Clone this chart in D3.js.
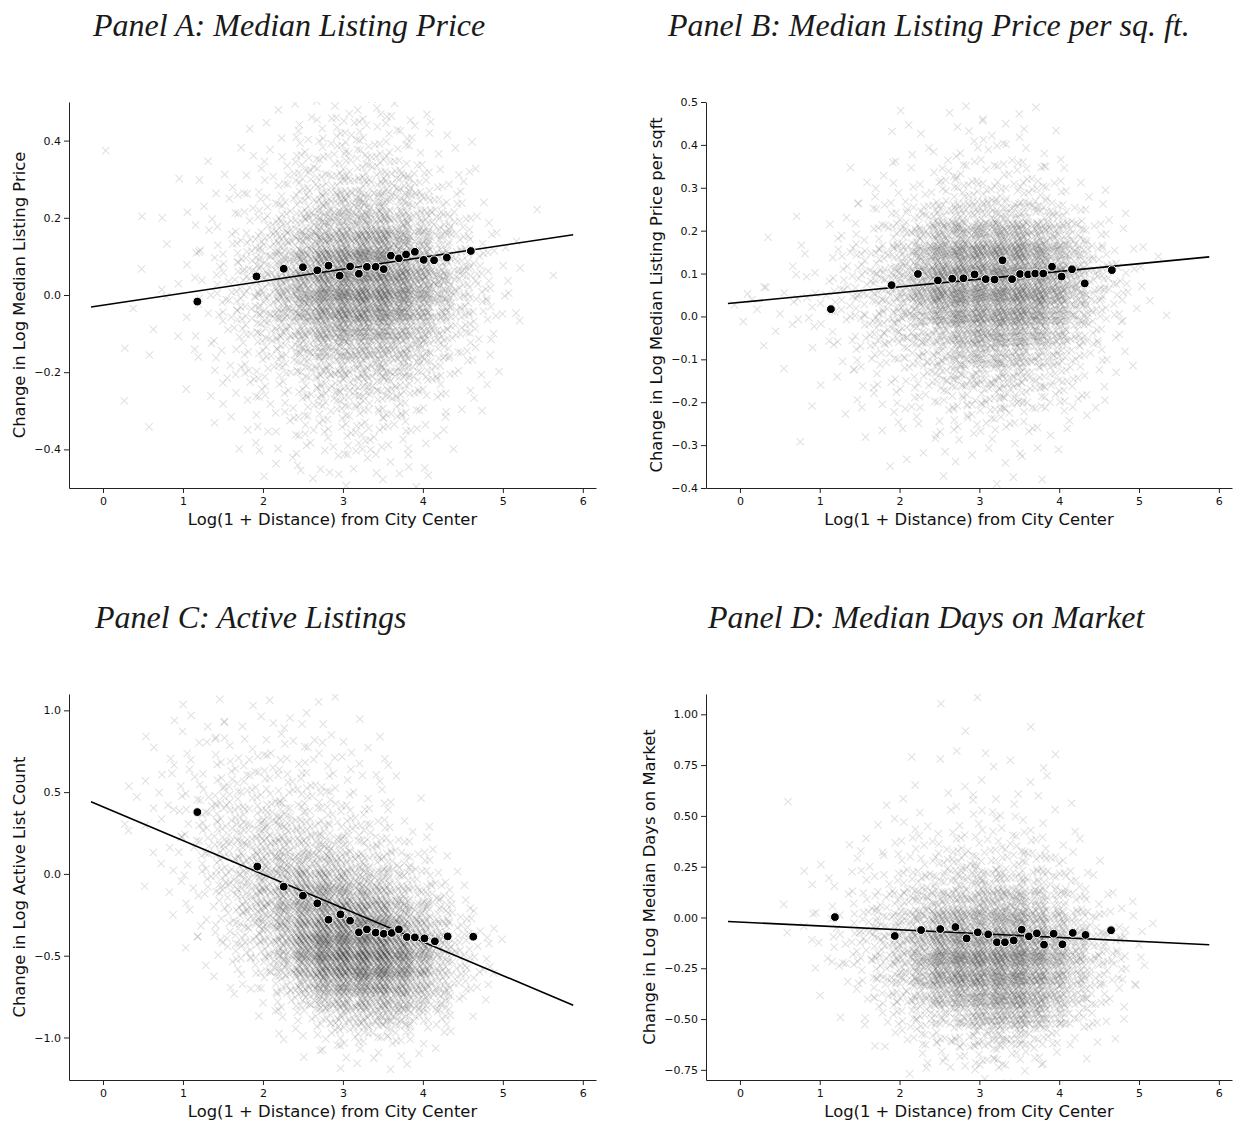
<!DOCTYPE html>
<html lang="en">
<head>
<meta charset="UTF-8">
<title>Change vs distance from city center</title>
<script src="https://cdn.jsdelivr.net/npm/d3@7"></script>
<style>
  body { margin: 0; background: #fff; }
  svg text { font-family: 'DejaVu Sans', sans-serif; fill: #111; }
  .title { font-family: 'Liberation Serif', serif; font-style: italic; fill: #1a1a1a; }
</style>
</head>
<body>
<div id="chart"></div>
<script>
// ---- data ----
var xTicks = [0, 1, 2, 3, 4, 5, 6];
var xLabel = "Log(1 + Distance) from City Center";

var titles = ["Panel A: Median Listing Price",
              "Panel B: Median Listing Price per sq. ft.",
              "Panel C: Active Listings",
              "Panel D: Median Days on Market"];
var yLabels = ["Change in Log Median Listing Price",
               "Change in Log Median Listing Price per sqft",
               "Change in Log Active List Count",
               "Change in Log Median Days on Market"];

var yTicksA = [-0.4, -0.2, 0.0, 0.2, 0.4];
var yTicksB = [-0.4, -0.3, -0.2, -0.1, 0.0, 0.1, 0.2, 0.3, 0.4, 0.5];
var yTicksC = [-1.0, -0.5, 0.0, 0.5, 1.0];
var yTicksD = [-0.75, -0.5, -0.25, 0.0, 0.25, 0.5, 0.75, 1.0];

// binned means (black dots)
var binXA = [1.18, 1.92, 2.26, 2.50, 2.68, 2.82, 2.96, 3.09, 3.20, 3.30, 3.41, 3.51, 3.60, 3.70, 3.79, 3.90, 4.01, 4.14, 4.30, 4.60];
var binYA = [-0.017, 0.048, 0.068, 0.072, 0.064, 0.076, 0.050, 0.074, 0.055, 0.073, 0.073, 0.067, 0.102, 0.095, 0.105, 0.112, 0.091, 0.090, 0.097, 0.114];
var binXB = [1.14, 1.90, 2.23, 2.48, 2.66, 2.80, 2.94, 3.08, 3.19, 3.29, 3.41, 3.51, 3.61, 3.70, 3.80, 3.91, 4.03, 4.16, 4.32, 4.66];
var binYB = [0.017, 0.073, 0.099, 0.084, 0.088, 0.089, 0.098, 0.087, 0.086, 0.131, 0.087, 0.099, 0.098, 0.100, 0.100, 0.116, 0.093, 0.110, 0.077, 0.108];
var binXC = [1.18, 1.93, 2.26, 2.50, 2.68, 2.82, 2.97, 3.09, 3.20, 3.30, 3.41, 3.51, 3.61, 3.70, 3.80, 3.90, 4.02, 4.15, 4.31, 4.63];
var binYC = [0.378, 0.045, -0.078, -0.133, -0.180, -0.280, -0.247, -0.286, -0.357, -0.339, -0.359, -0.366, -0.361, -0.339, -0.386, -0.388, -0.394, -0.412, -0.382, -0.384];
var binXD = [1.19, 1.94, 2.27, 2.51, 2.70, 2.84, 2.98, 3.11, 3.22, 3.32, 3.43, 3.53, 3.62, 3.72, 3.81, 3.93, 4.04, 4.17, 4.33, 4.65];
var binYD = [0.002, -0.091, -0.062, -0.057, -0.047, -0.103, -0.073, -0.083, -0.122, -0.122, -0.113, -0.060, -0.093, -0.078, -0.134, -0.080, -0.132, -0.076, -0.086, -0.063];

// fitted line end points
var fitX = [-0.15, 5.88];
var fitYA = [-0.031, 0.156];
var fitYB = [0.030, 0.139];
var fitYC = [0.441, -0.803];
var fitYD = [-0.020, -0.134];

// background cloud: estimated density per cell (0-9),
// columns from x=-0.25 in steps of 0.25, rows from the top of each panel
var cloudA = [
  "00000 00001 11222 21100 00000",
  "00000 00011 12333 22110 00000",
  "01000 00111 23333 32111 00000",
  "00001 01112 33444 43211 00000",
  "00000 11122 34555 54321 00000",
  "00100 11223 45666 65432 10100",
  "00010 11234 56777 76532 10000",
  "00001 12345 67889 87643 21000",
  "00100 12345 78999 98754 21010",
  "00011 12346 78999 98754 21000",
  "00101 12345 78999 98754 21000",
  "00010 12345 67888 87643 21000",
  "00101 11234 56777 76532 10000",
  "00010 11233 45666 65432 10000",
  "00000 11223 34555 54321 10000",
  "00100 01122 33444 43211 00000",
  "00010 01112 23333 32211 00000",
  "00000 00111 22233 22110 00000",
  "00000 00011 12222 21100 00000",
  "00000 00001 11111 11100 00000"];
var cloudB = [
  "00000 00001 01111 10000 00000",
  "00000 00011 11222 11000 00000",
  "00000 00011 12222 21100 00000",
  "00000 01112 23333 32110 00000",
  "00000 01122 34444 43211 00000",
  "00010 11234 56666 65421 10000",
  "00101 12345 78889 87642 10000",
  "00011 23456 89999 98753 21000",
  "01112 23457 89999 99754 21000",
  "02222 23456 89999 98753 21100",
  "00111 23455 67888 87642 10000",
  "00101 12344 56777 76532 10000",
  "00010 11233 45666 54321 10000",
  "00000 11123 34455 44321 00000",
  "00001 01112 23333 32210 00000",
  "00001 00111 12222 21100 00000",
  "00000 00011 11111 11000 00000",
  "00000 00000 01011 01000 00000"];
var cloudC = [
  "00000 11011 01100 00000 00000",
  "00001 11111 11110 00000 00000",
  "00011 11211 21111 00000 00000",
  "00011 12222 22111 10000 00000",
  "00011 12222 22211 10000 00000",
  "00112 22333 32221 10000 00000",
  "00112 23333 33222 11000 00000",
  "00111 23444 44332 11000 00000",
  "00111 23445 54433 21100 00000",
  "00011 23455 55544 32100 00000",
  "00011 23456 66655 43210 00000",
  "00011 23456 77766 54310 00000",
  "00001 12456 78877 65421 00000",
  "00001 12356 78888 76531 00000",
  "00000 12346 78999 87642 10000",
  "00000 11345 79999 98643 10000",
  "00000 01234 68999 98643 10000",
  "00000 01123 57889 87642 10000",
  "00000 00112 45777 76532 00000",
  "00000 00011 23566 65421 00000",
  "00000 00001 12344 43210 00000",
  "00000 00000 11222 21100 00000",
  "00000 00000 01111 11000 00000",
  "00000 00000 00000 00000 00000"];
var cloudD = [
  "00000 00000 01100 00000 00000",
  "00000 00000 00100 10000 00000",
  "00000 00000 01010 01000 00000",
  "00000 00001 01011 01000 00000",
  "00000 00001 01111 11000 00000",
  "00010 00011 11122 11100 00000",
  "00000 00112 12222 21100 00000",
  "00000 01112 23333 32110 00000",
  "00001 11223 34444 43211 00000",
  "00001 12234 45666 54321 00000",
  "00011 12345 67777 76432 10000",
  "00011 23456 78889 87643 21000",
  "00001 23456 89999 98754 21000",
  "00001 12356 89999 98754 21000",
  "00000 11245 78889 87643 10000",
  "00000 01234 56788 87532 10000",
  "00000 00123 34566 54321 00000",
  "00000 00012 23344 32110 00000",
  "00000 00001 11122 11000 00000"];
var levelCounts = [0, 1, 3, 6, 10, 16, 24, 35, 50, 68];

// ---- layout ----
var panels = [
  {left: 69,  right: 596,  top: 102, bottom: 488,  yDomain: [-0.5, 0.5],   yTicks: yTicksA, fmt: ".1f",
   bx: binXA, by: binYA, fit: fitYA, cloud: cloudA, cTop: 0.5, cStep: 0.05,
   title: [93, 36], yLabX: 25},
  {left: 706, right: 1232, top: 102, bottom: 488,  yDomain: [-0.4, 0.5],   yTicks: yTicksB, fmt: ".1f",
   bx: binXB, by: binYB, fit: fitYB, cloud: cloudB, cTop: 0.5, cStep: 0.05,
   title: [668, 36], yLabX: 662},
  {left: 69,  right: 596,  top: 694, bottom: 1080, yDomain: [-1.26, 1.10], yTicks: yTicksC, fmt: ".1f",
   bx: binXC, by: binYC, fit: fitYC, cloud: cloudC, cTop: 1.1, cStep: 0.1,
   title: [95, 628], yLabX: 25},
  {left: 706, right: 1232, top: 694, bottom: 1080, yDomain: [-0.80, 1.10], yTicks: yTicksD, fmt: ".2f",
   bx: binXD, by: binYD, fit: fitYD, cloud: cloudD, cTop: 1.1, cStep: 0.1,
   title: [708, 628], yLabX: 655}
];

var svg = d3.select("#chart").append("svg")
    .attr("width", 1235)
    .attr("height", 1126);

var cross = "M-3.7,-3.7L3.7,3.7M-3.7,3.7L3.7,-3.7";
var spread = 1.8; // markers of a cell spill a little into neighbours

panels.forEach(function(p, i) {
  var x = d3.scaleLinear().domain([-0.425, 6.165]).range([p.left, p.right]);
  var y = d3.scaleLinear().domain(p.yDomain).range([p.bottom, p.top]);

  svg.append("clipPath").attr("id", "clip" + i)
    .append("rect")
      .attr("x", p.left).attr("y", p.top)
      .attr("width", p.right - p.left).attr("height", p.bottom - p.top);

  // cloud of faint crosses
  var pts = [];
  p.cloud.forEach(function(row, r) {
    row = row.replace(/ /g, "");
    for (var c = 0; c < row.length; c++) {
      var n = levelCounts[+row[c]];
      var seed = (r * 31 + c * 17 + i * 7) % 97;
      for (var k = 0; k < n; k++) {
        var u = (0.5 + (k + seed) * 0.7548776662) % 1;
        var v = (0.5 + (k + seed) * 0.5698402910) % 1;
        var cu = n > 1 ? c + 0.5 + (u - 0.5) * spread : c + u;
        var rv = n > 1 ? r + 0.5 + (v - 0.5) * spread : r + v;
        pts.push([-0.25 + cu * 0.25, p.cTop - rv * p.cStep]);
      }
    }
  });
  svg.append("g")
      .attr("clip-path", "url(#clip" + i + ")")
    .selectAll("path")
    .data(pts)
    .enter().append("path")
      .attr("d", cross)
      .attr("transform", function(d) { return "translate(" + x(d[0]) + "," + y(d[1]) + ")"; })
      .attr("fill", "none")
      .attr("stroke", "#000")
      .attr("stroke-opacity", 0.12)
      .attr("stroke-width", 1.05);

  // fitted line
  svg.append("line")
      .attr("x1", x(fitX[0])).attr("y1", y(p.fit[0]))
      .attr("x2", x(fitX[1])).attr("y2", y(p.fit[1]))
      .attr("stroke", "#000")
      .attr("stroke-width", 1.6);

  // binned means
  svg.append("g").selectAll("circle")
    .data(p.bx)
    .enter().append("circle")
      .attr("cx", function(d) { return x(d); })
      .attr("cy", function(d, j) { return y(p.by[j]); })
      .attr("r", 4.4)
      .attr("fill", "#000")
      .attr("stroke", "#fff")
      .attr("stroke-width", 1);

  // axes
  var gx = svg.append("g")
      .attr("transform", "translate(0," + p.bottom + ")")
      .call(d3.axisBottom(x).tickValues(xTicks).tickFormat(d3.format("d")).tickSize(5).tickPadding(4).tickSizeOuter(0));
  var gy = svg.append("g")
      .attr("transform", "translate(" + p.left + ",0)")
      .call(d3.axisLeft(y).tickValues(p.yTicks).tickFormat(d3.format(p.fmt)).tickSize(5).tickPadding(3).tickSizeOuter(0));
  [gx, gy].forEach(function(g) {
    g.selectAll("text").style("font-size", "11px").attr("fill", "#111");
    g.selectAll("line, path").attr("stroke", "#222");
  });

  // axis labels
  svg.append("text")
      .attr("x", (p.left + p.right) / 2)
      .attr("y", p.bottom + 37)
      .attr("text-anchor", "middle")
      .style("font-size", "16.4px")
      .text(xLabel);
  svg.append("text")
      .attr("transform", "translate(" + p.yLabX + "," + (p.top + p.bottom) / 2 + ")rotate(-90)")
      .attr("text-anchor", "middle")
      .style("font-size", "16.4px")
      .text(yLabels[i]);

  // panel title
  svg.append("text")
      .attr("class", "title")
      .attr("x", p.title[0])
      .attr("y", p.title[1])
      .style("font-size", "32px")
      .text(titles[i]);
});
</script>
</body>
</html>
